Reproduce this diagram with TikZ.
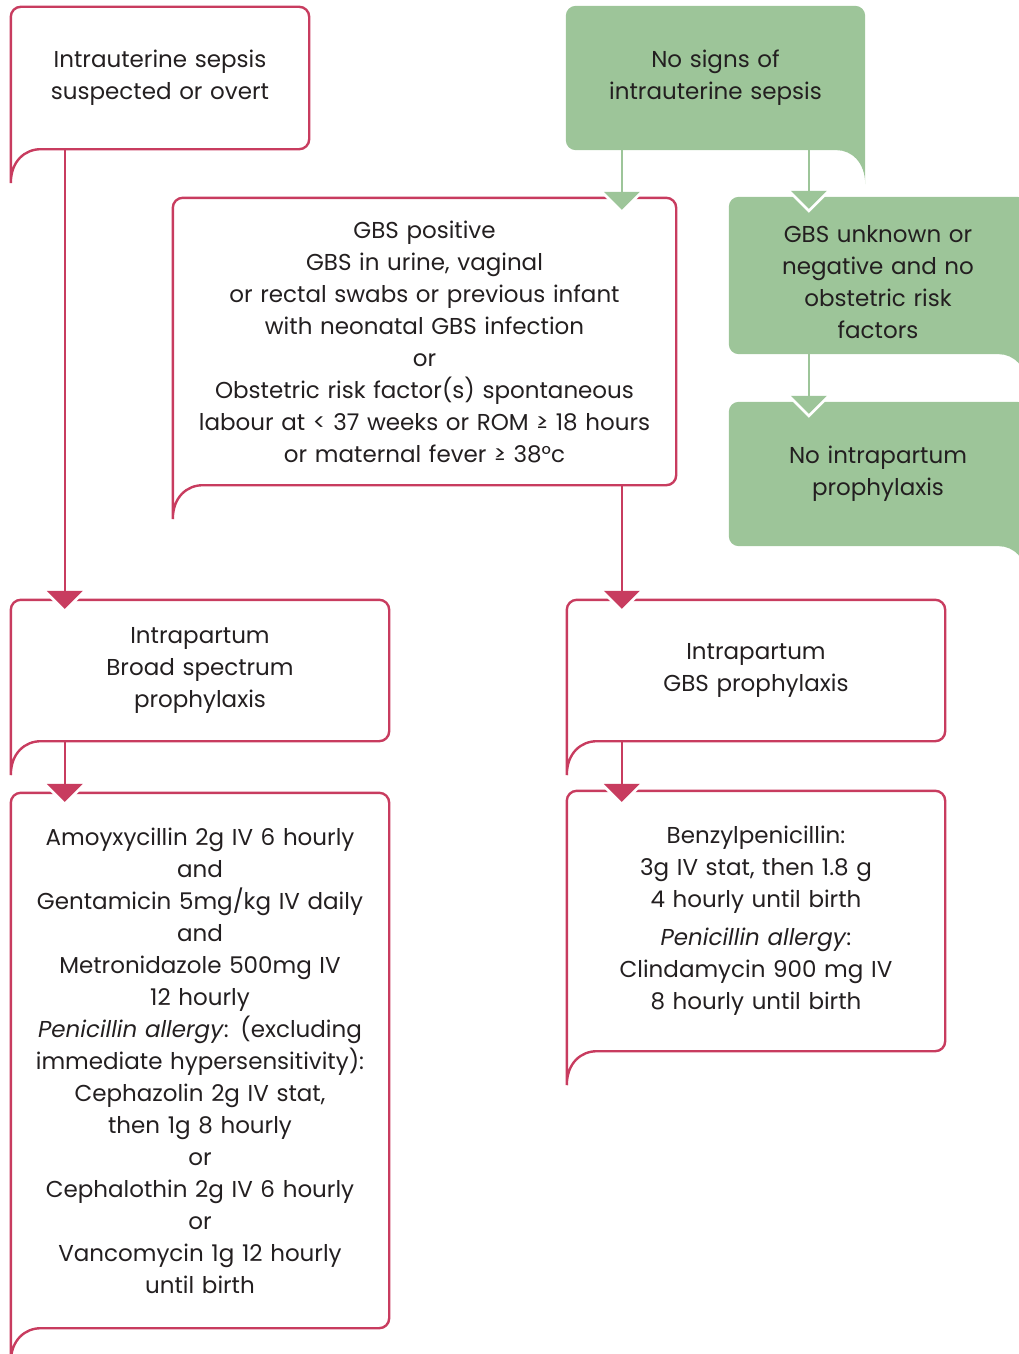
\documentclass[tikz,border=0pt]{standalone}
\usepackage{fontspec}
\setmainfont{Poppins}
\usetikzlibrary{calc,backgrounds}
\definecolor{rosered}{RGB}{200,60,95}
\definecolor{sage}{RGB}{157,197,153}
\definecolor{ink}{RGB}{35,31,32}

% box with its tail hanging down on the left
\newcommand{\tailleft}[2]{%
\path[#2] ($(#1.south west)+(0,34)$) [rounded corners=10pt] -- (#1.north west) -- (#1.north east) -- (#1.south east)
 -- ($(#1.south west)+(40,0)$) [sharp corners] .. controls ($(#1.south west)+(14,0)$) and ($(#1.south west)+(0,12)$) .. ($(#1.south west)+(0,34)$) -- cycle;}
% same, tail on the right
\newcommand{\tailright}[2]{%
\path[#2] ($(#1.south east)+(0,34)$) [rounded corners=10pt] -- (#1.north east) -- (#1.north west) -- (#1.south west)
 -- ($(#1.south east)+(-38,0)$) [sharp corners] .. controls ($(#1.south east)+(-14,0)$) and ($(#1.south east)+(0,12)$) .. ($(#1.south east)+(0,34)$) -- cycle;}
% triangle head with a white rim
\newcommand{\droptip}[2]{%
\fill[white] ($(#2)+(-26,-22)$) -- ($(#2)+(26,-22)$) -- ($(#2)+(0,4)$) -- cycle;
\fill[#1] ($(#2)+(-18,-18)$) -- ($(#2)+(18,-18)$) -- (#2) -- cycle;}

\begin{document}
\begin{tikzpicture}[x=1pt,y=-1pt]
\tikzstyle{every node}=[inner sep=0pt,align=center,text=ink,font=\fontsize{23}{32}\selectfont]
\tikzstyle{pinkedge}=[draw=rosered,line width=2.4pt]
\tikzstyle{greenfill}=[fill=sage]
\tikzstyle{pinkflow}=[draw=rosered,line width=2.4pt]
\tikzstyle{greenflow}=[draw=sage,line width=2.4pt]

\useasboundingbox (0,0) rectangle (1018,1354);

\node[minimum width=298pt,minimum height=142pt,text width=280pt] (sepsis) at (160,78)
 {Intrauterine sepsis\\suspected or overt};
\node[minimum width=299pt,minimum height=144pt,text width=280pt] (nosigns) at (715.5,78)
 {No signs of\\intrauterine sepsis};
\node[minimum width=503pt,minimum height=287pt,text width=490pt] (gbspos) at (424.5,341.5)
 {GBS positive\\GBS in urine, vaginal\\or rectal swabs or previous infant\\with neonatal GBS infection\\or\\Obstetric risk factor(s) spontaneous\\labour at < 37 weeks or ROM ≥ 18 hours\\or maternal fever ≥ 38°c};
\node[minimum width=298pt,minimum height=157pt,text width=280pt] (unknown) at (878,275.5)
 {\\[-2pt]GBS unknown or\\negative and no\\obstetric risk\\factors};
\node[minimum width=298pt,minimum height=144pt,text width=280pt] (noproph) at (878,474)
 {No intrapartum\\prophylaxis};
\node[minimum width=378pt,minimum height=141pt,text width=366pt] (broad) at (200,670.5)
 {Intrapartum\\Broad spectrum\\prophylaxis};
\node[minimum width=378pt,minimum height=141pt,text width=366pt] (gbsproph) at (756,670.5)
 {Intrapartum\\GBS prophylaxis};
\node[minimum width=378pt,minimum height=535pt,text width=366pt] (broadrx) at (200,1060.5)
 {Amoyxycillin 2g IV 6 hourly\\and\\Gentamicin 5mg/kg IV daily\\and\\Metronidazole 500mg IV\\12 hourly\\\textit{Penicillin allergy}: (excluding\\immediate hypersensitivity):\\Cephazolin 2g IV stat,\\then 1g 8 hourly\\or\\Cephalothin 2g IV 6 hourly\\or\\Vancomycin 1g 12 hourly\\until birth};
\node[minimum width=378pt,minimum height=260pt,text width=366pt] (gbsrx) at (756,921)
 {Benzylpenicillin:\\3g IV stat, then 1.8 g\\4 hourly until birth\\[6pt]\textit{Penicillin allergy}:\\Clindamycin 900 mg IV\\8 hourly until birth};

\begin{scope}[on background layer]
\tailleft{sepsis}{pinkedge}
\tailright{nosigns}{greenfill}
\tailleft{gbspos}{pinkedge}
\tailright{unknown}{greenfill}
\tailright{noproph}{greenfill}
\tailleft{broad}{pinkedge}
\tailleft{gbsproph}{pinkedge}
\tailleft{broadrx}{pinkedge}
\tailleft{gbsrx}{pinkedge}
\end{scope}

\coordinate (tipbroad) at ($(broad.north west)+(54,9)$);
\coordinate (tippos) at ($(gbspos.north west)+(449,12)$);
\coordinate (tipunk) at ($(unknown.north west)+(80,12)$);
\coordinate (tipno) at ($(noproph.north west)+(80,12)$);
\coordinate (tipgbs) at ($(gbsproph.north west)+(55,9)$);
\coordinate (tipbrx) at ($(broadrx.north west)+(54,9)$);
\coordinate (tipgrx) at ($(gbsrx.north west)+(55,11)$);

\droptip{rosered}{tipbroad}
\droptip{sage}{tippos}
\droptip{sage}{tipunk}
\droptip{sage}{tipno}
\droptip{rosered}{tipgbs}
\droptip{rosered}{tipbrx}
\droptip{rosered}{tipgrx}

\draw[pinkflow] (sepsis.south -| tipbroad) -- ($(tipbroad)+(0,-17)$);
\draw[greenflow] (nosigns.south -| tippos) -- ($(tippos)+(0,-17)$);
\draw[greenflow] (nosigns.south -| tipunk) -- ($(tipunk)+(0,-17)$);
\draw[greenflow] (unknown.south -| tipno) -- ($(tipno)+(0,-17)$);
\draw[pinkflow] (gbspos.south -| tipgbs) -- ($(tipgbs)+(0,-17)$);
\draw[pinkflow] (broad.south -| tipbrx) -- ($(tipbrx)+(0,-17)$);
\draw[pinkflow] (gbsproph.south -| tipgrx) -- ($(tipgrx)+(0,-17)$);
\end{tikzpicture}
\end{document}
